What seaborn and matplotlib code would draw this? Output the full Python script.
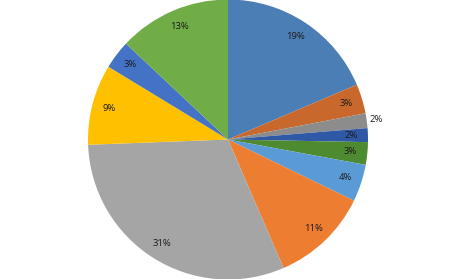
import matplotlib
matplotlib.use("Agg")
import matplotlib.pyplot as plt
import seaborn as sns
import numpy as np

# Data (clockwise from 12 o'clock)
shares = [18.6, 3.4, 1.7, 1.6, 2.6, 4.3, 11.3, 30.9, 9.3, 3.3, 13.0]
labels = ["19%", "3%", "2%", "2%", "3%", "4%", "11%", "31%", "9%", "3%", "13%"]
colors = ["#4A7EB4", "#C8682C", "#8C8C8C", "#2F58A6", "#4E8A30", "#5B9BD5",
          "#ED7D31", "#A5A5A5", "#FFC000", "#4472C4", "#70AD47"]
outside = [False, False, True, False, False, False, False, False, False, False, False]

sns.set_theme(style="white")
plt.rcParams['font.family'] = ['Open Sans', 'DejaVu Sans']

fig = plt.figure(figsize=(4.56, 2.79), dpi=100)
ax = fig.add_axes([0, 0, 1, 1])

wedges, _ = ax.pie(shares, colors=colors, startangle=90, counterclock=False,
                   radius=1.0, wedgeprops=dict(linewidth=0))

for w, lab, out in zip(wedges, labels, outside):
    mid = np.deg2rad((w.theta1 + w.theta2) / 2)
    r = 1.07 if out else 0.88
    ax.text(r * np.cos(mid), r * np.sin(mid), lab, ha="center", va="center",
            fontsize=6.8, color="#1a1a1a")

ax.set_xlim(-228 / 140, 228 / 140)
ax.set_ylim(-139.5 / 140, 139.5 / 140)
ax.set_aspect("equal")
ax.axis("off")

fig.savefig("out.png", dpi=100)
